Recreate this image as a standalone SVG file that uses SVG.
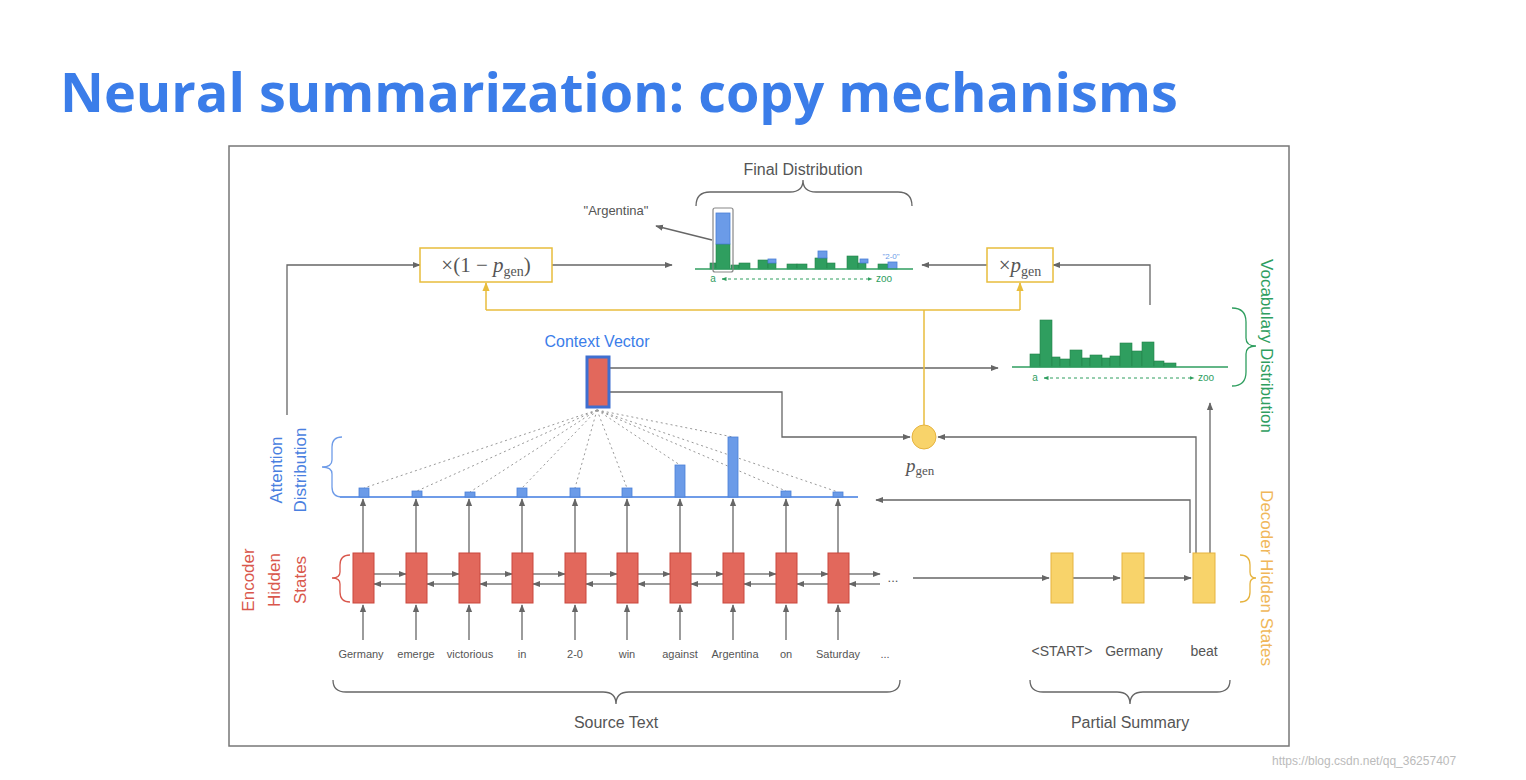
<svg xmlns="http://www.w3.org/2000/svg" width="1526" height="780" viewBox="0 0 1526 780">
<defs>
<style>
.t{font-family:"Liberation Sans",Arial,sans-serif;fill:#555}
.w{font-size:11px;text-anchor:middle}
.enc{fill:#e2685c;stroke:#c9463c;stroke-width:1}
.dec{fill:#f8d36a;stroke:#e6b33f;stroke-width:1}
.ln{stroke:#666;stroke-width:1.3;fill:none}
.yl{stroke:#e8bd3c;stroke-width:1.5;fill:none}
.dot{stroke:#999;stroke-width:1;stroke-dasharray:2 3;fill:none}
.bb{fill:#6b9be8;stroke:#4a7fd8;stroke-width:0.8}
.gb{fill:#2f9e5f;stroke:#23804a;stroke-width:0.6}
.br{fill:none;stroke-width:1.3}
.m{font-family:"Liberation Serif","Times New Roman",serif;fill:#555}
</style>
<marker id="a" viewBox="0 0 10 10" refX="9" refY="5" markerWidth="6" markerHeight="6" orient="auto"><path d="M0,1 L10,5 L0,9z" fill="#666"/></marker>
<marker id="ay" viewBox="0 0 10 10" refX="9" refY="5" markerWidth="6" markerHeight="6" orient="auto"><path d="M0,1 L10,5 L0,9z" fill="#e8bd3c"/></marker>
<marker id="ag" viewBox="0 0 10 10" refX="9" refY="5" markerWidth="5" markerHeight="5" orient="auto-start-reverse"><path d="M0,1 L10,5 L0,9z" fill="#2f9e5f"/></marker>
</defs>
<rect width="1526" height="780" fill="#fff"/>
<text x="60" y="112" font-family="'Open Sans','Liberation Sans',sans-serif" font-weight="bold" font-size="54" fill="#3b7de9">Neural summarization: copy mechanisms</text>
<rect x="229" y="146" width="1060" height="600" fill="#fff" stroke="#777" stroke-width="1.5"/>

<g id="connectors">
<g class="ln" marker-end="url(#a)">
<path d="M363,640V605"/><path d="M416,640V605"/><path d="M469,640V605"/><path d="M522,640V605"/><path d="M575,640V605"/><path d="M627,640V605"/><path d="M680,640V605"/><path d="M733,640V605"/><path d="M786,640V605"/><path d="M838,640V605"/>
<path d="M363,553V499"/><path d="M416,553V499"/><path d="M469,553V499"/><path d="M522,553V499"/><path d="M575,553V499"/><path d="M627,553V499"/><path d="M680,553V499"/><path d="M733,553V499"/><path d="M786,553V499"/><path d="M838,553V499"/>
<path d="M374,574H406"/><path d="M427,574H459"/><path d="M480,574H512"/><path d="M533,574H565"/><path d="M586,574H617"/><path d="M638,574H670"/><path d="M691,574H723"/><path d="M744,574H776"/><path d="M797,574H828"/><path d="M849,574H880"/>
<path d="M406,584H374"/><path d="M459,584H427"/><path d="M512,584H480"/><path d="M565,584H533"/><path d="M617,584H586"/><path d="M670,584H638"/><path d="M723,584H691"/><path d="M776,584H744"/><path d="M828,584H797"/><path d="M880,584H849"/>
<path d="M913,578H1049"/><path d="M1073,578H1120"/><path d="M1144,578H1191"/>
<path d="M609,368H998"/>
<path d="M609,392H782V437H910"/>
<path d="M1196,553V437H938"/>
<path d="M1210,553V403"/>
<path d="M1190,553V500H876"/>
<path d="M287,415V265H420"/>
<path d="M552,265H672"/>
<path d="M1150,305V265H1053"/>
<path d="M987,265H922"/>
<path d="M712,240L656,226"/>
</g>
<g class="yl">
<path d="M924,425V310"/>
<path d="M486,310H1020"/>
<path d="M486,310V283" marker-end="url(#ay)"/>
<path d="M1020,310V283" marker-end="url(#ay)"/>
</g>
<g class="dot">
<path d="M597,410L364,488M597,410L417,491M597,410L470,492M597,410L522,488M597,410L575,488M597,410L627,488M597,410L680,465M597,410L733,437M597,410L786,491M597,410L838,492"/>
</g>
</g>

<g id="encoder">
<rect class="enc" x="353" y="553" width="21" height="50"/>
<rect class="enc" x="406" y="553" width="21" height="50"/>
<rect class="enc" x="459" y="553" width="21" height="50"/>
<rect class="enc" x="512" y="553" width="21" height="50"/>
<rect class="enc" x="565" y="553" width="21" height="50"/>
<rect class="enc" x="617" y="553" width="21" height="50"/>
<rect class="enc" x="670" y="553" width="21" height="50"/>
<rect class="enc" x="723" y="553" width="21" height="50"/>
<rect class="enc" x="776" y="553" width="21" height="50"/>
<rect class="enc" x="828" y="553" width="21" height="50"/>
<text class="t" x="893" y="582" font-size="13" text-anchor="middle">...</text>
</g>

<g id="words" class="t w">
<text x="361" y="658">Germany</text><text x="416" y="658">emerge</text><text x="470" y="658">victorious</text><text x="522" y="658">in</text><text x="575" y="658">2-0</text><text x="627" y="658">win</text><text x="680" y="658">against</text><text x="735" y="658">Argentina</text><text x="786" y="658">on</text><text x="838" y="658">Saturday</text><text x="885" y="658">...</text>
</g>

<g id="attention">
<line x1="340" y1="497" x2="858" y2="497" stroke="#6f9ce8" stroke-width="2"/>
<rect class="bb" x="359" y="488" width="10" height="9"/><rect class="bb" x="412" y="491" width="10" height="6"/><rect class="bb" x="465" y="492" width="10" height="5"/><rect class="bb" x="517" y="488" width="10" height="9"/><rect class="bb" x="570" y="488" width="10" height="9"/><rect class="bb" x="622" y="488" width="10" height="9"/><rect class="bb" x="675" y="465" width="10" height="32"/><rect class="bb" x="728" y="437" width="10" height="60"/><rect class="bb" x="781" y="491" width="10" height="6"/><rect class="bb" x="833" y="492" width="10" height="5"/>
</g>

<g id="context">
<rect x="587" y="357" width="22" height="50" fill="#e2685c" stroke="#3f6fd0" stroke-width="3"/>
<text class="t" x="597" y="347" font-size="16" text-anchor="middle" style="fill:#3b7de9">Context Vector</text>
</g>

<g id="decoder">
<rect class="dec" x="1051" y="553" width="22" height="50"/>
<rect class="dec" x="1122" y="553" width="22" height="50"/>
<rect class="dec" x="1193" y="553" width="22" height="50"/>
<text class="t" x="1062" y="656" font-size="14" text-anchor="middle">&lt;START&gt;</text>
<text class="t" x="1134" y="656" font-size="14" text-anchor="middle">Germany</text>
<text class="t" x="1204" y="656" font-size="14" text-anchor="middle">beat</text>
</g>

<g id="pgen">
<circle cx="924" cy="437" r="12" fill="#f8d36a" stroke="#e6b33f"/>
<text class="m" x="906" y="472" font-size="19" font-style="italic">p<tspan font-size="13" dy="3" font-style="normal">gen</tspan></text>
</g>

<g id="mix">
<rect x="420" y="248" width="132" height="34" fill="#fff" stroke="#e8bd3c" stroke-width="1.5"/>
<text class="m" x="486" y="272" font-size="21" text-anchor="middle">×(1 − <tspan font-style="italic">p</tspan><tspan font-size="14" dy="4">gen</tspan><tspan dy="-4">)</tspan></text>
<rect x="987" y="248" width="66" height="34" fill="#fff" stroke="#e8bd3c" stroke-width="1.5"/>
<text class="m" x="1020" y="272" font-size="21" text-anchor="middle">×<tspan font-style="italic">p</tspan><tspan font-size="14" dy="4">gen</tspan></text>
</g>

<g id="final">
<text class="t" x="803" y="175" font-size="16" text-anchor="middle">Final Distribution</text>
<path class="br" stroke="#666" d="M696,206Q696,192 710,192H790Q803,192 803,180Q803,192 816,192H898Q912,192 912,206"/>
<text class="t" x="616" y="215" font-size="13" text-anchor="middle">"Argentina"</text>
<g class="gb">
<rect x="710" y="263" width="6" height="6"/><rect x="716" y="244" width="14" height="25"/><rect x="731" y="265" width="8" height="4"/><rect x="739" y="263" width="11" height="6"/><rect x="758" y="260" width="10" height="9"/><rect x="768" y="263" width="8" height="6"/><rect x="787" y="264" width="10" height="5"/><rect x="797" y="264" width="10" height="5"/><rect x="815" y="258" width="12" height="11"/><rect x="827" y="263" width="8" height="6"/><rect x="847" y="256" width="11" height="13"/><rect x="858" y="263" width="8" height="6"/><rect x="878" y="264" width="10" height="5"/>
</g>
<g class="bb">
<rect x="716" y="213" width="14" height="31"/><rect x="768" y="259" width="8" height="4"/><rect x="818" y="251" width="9" height="7"/><rect x="860" y="259" width="8" height="4"/><rect x="888" y="262" width="9" height="7"/>
</g>
<line x1="695" y1="269" x2="913" y2="269" stroke="#2f9e5f" stroke-width="1.5"/>
<rect x="713" y="208" width="20" height="64" rx="2" fill="none" stroke="#888" stroke-width="1.2"/>
<text x="891" y="259" font-size="8" font-family="Liberation Sans,sans-serif" fill="#6b9be8" text-anchor="middle">"2-0"</text>
<text x="713" y="282" font-size="10" font-family="Liberation Sans,sans-serif" fill="#2f9e5f" text-anchor="middle">a</text>
<path d="M722,279H872" stroke="#2f9e5f" stroke-dasharray="3 3" stroke-width="1" marker-start="url(#ag)" marker-end="url(#ag)"/>
<text x="884" y="282" font-size="10" font-family="Liberation Sans,sans-serif" fill="#2f9e5f" text-anchor="middle">zoo</text>
</g>

<g id="vocab">
<g class="gb">
<rect x="1030" y="354" width="10" height="13"/><rect x="1040" y="320" width="12" height="47"/><rect x="1052" y="357" width="8" height="10"/><rect x="1060" y="359" width="10" height="8"/><rect x="1070" y="350" width="12" height="17"/><rect x="1082" y="358" width="8" height="9"/><rect x="1090" y="355" width="12" height="12"/><rect x="1102" y="358" width="8" height="9"/><rect x="1110" y="356" width="10" height="11"/><rect x="1120" y="343" width="12" height="24"/><rect x="1132" y="351" width="10" height="16"/><rect x="1142" y="342" width="12" height="25"/><rect x="1154" y="361" width="10" height="6"/><rect x="1164" y="363" width="12" height="4"/>
</g>
<line x1="1012" y1="367" x2="1228" y2="367" stroke="#2f9e5f" stroke-width="1.5"/>
<text x="1035" y="381" font-size="10" font-family="Liberation Sans,sans-serif" fill="#2f9e5f" text-anchor="middle">a</text>
<path d="M1044,378H1194" stroke="#2f9e5f" stroke-dasharray="3 3" stroke-width="1" marker-start="url(#ag)" marker-end="url(#ag)"/>
<text x="1206" y="381" font-size="10" font-family="Liberation Sans,sans-serif" fill="#2f9e5f" text-anchor="middle">zoo</text>
<path class="br" stroke="#2f9e5f" d="M1232,308Q1246,308 1246,322V338Q1246,346 1256,346Q1246,346 1246,354V372Q1246,386 1232,386"/>
<text transform="translate(1261,346) rotate(90)" font-size="17" font-family="Liberation Sans,sans-serif" fill="#2f9e5f" text-anchor="middle">Vocabulary Distribution</text>
</g>

<g id="labels">
<path class="br" stroke="#e6b33f" d="M1240,555Q1250,555 1250,565V572Q1250,578 1256,578Q1250,578 1250,584V592Q1250,602 1240,602"/>
<text transform="translate(1261,578) rotate(90)" font-size="17" font-family="Liberation Sans,sans-serif" fill="#f0b75a" text-anchor="middle">Decoder Hidden States</text>
<path class="br" stroke="#6f9ce8" d="M342,437Q332,437 332,447V460Q332,467 322,467Q332,467 332,474V487Q332,497 342,497"/>
<text transform="translate(282,470) rotate(-90)" font-size="17" font-family="Liberation Sans,sans-serif" fill="#4a7fe0" text-anchor="middle">Attention</text>
<text transform="translate(306,470) rotate(-90)" font-size="17" font-family="Liberation Sans,sans-serif" fill="#4a7fe0" text-anchor="middle">Distribution</text>
<path class="br" stroke="#d9574c" d="M350,555Q340,555 340,565V572Q340,578 332,578Q340,578 340,584V592Q340,602 350,602"/>
<text transform="translate(254,580) rotate(-90)" font-size="17" font-family="Liberation Sans,sans-serif" fill="#d9574c" text-anchor="middle">Encoder</text>
<text transform="translate(280,580) rotate(-90)" font-size="17" font-family="Liberation Sans,sans-serif" fill="#d9574c" text-anchor="middle">Hidden</text>
<text transform="translate(306,580) rotate(-90)" font-size="17" font-family="Liberation Sans,sans-serif" fill="#d9574c" text-anchor="middle">States</text>
<path class="br" stroke="#666" d="M333,680Q333,692 346,692H603Q616,692 616,704Q616,692 629,692H887Q900,692 900,680"/>
<text class="t" x="616" y="728" font-size="16" text-anchor="middle">Source Text</text>
<path class="br" stroke="#666" d="M1030,680Q1030,692 1043,692H1117Q1130,692 1130,704Q1130,692 1143,692H1217Q1230,692 1230,680"/>
<text class="t" x="1130" y="728" font-size="16" text-anchor="middle">Partial Summary</text>
</g>
<text x="1272" y="765" font-size="12" font-family="Liberation Sans,sans-serif" fill="#bbb">https://blog.csdn.net/qq_36257407</text>
</svg>
